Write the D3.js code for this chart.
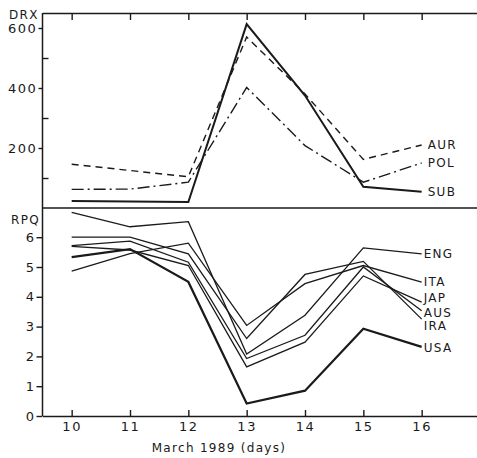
<!DOCTYPE html>
<html><head><meta charset="utf-8">
<script src="https://cdn.jsdelivr.net/npm/d3@7"></script>
<style>
body{margin:0;background:#fff;}
text{font-family:"DejaVu Sans",sans-serif;font-size:12px;fill:#1a1a1a;letter-spacing:1.3px;}
</style></head>
<body><svg id="c" width="477" height="458"></svg>
<script>
// ---- data ----
const days = [10, 11, 12, 13, 14, 15, 16];
const drxNames = ["AUR", "POL", "SUB"];
const AUR = [146, 125, 104, 570, 380, 162, 210];
const POL = [62, 63, 86, 402, 208, 86, 150];
const SUB = [23, 22, 20, 613, 375, 71, 54];
const rpqNames = ["ENG", "ITA", "JAP", "AUS", "IRA", "USA"];
const ENG = [6.83, 6.35, 6.52, 2.08, 3.38, 5.64, 5.44];
const ITA = [4.86, 5.45, 5.8, 3.04, 4.44, 5.05, 4.49];
const JAP = [5.69, 5.57, 5.05, 1.65, 2.48, 4.7, 3.82];
const AUS = [5.72, 5.87, 5.16, 1.93, 2.71, 5.0, 3.53];
const IRA = [6.0, 6.0, 5.44, 2.6, 4.75, 5.19, 3.25];
const USA = [5.33, 5.6, 4.5, 0.42, 0.85, 2.93, 2.32];
const drxMajor = [200, 400, 600];
const drxMinor = [100, 300, 500];
const rpqTicks = [0, 1, 2, 3, 4, 5, 6];
const xLabel = "March 1989 (days)";

// ---- chart ----
const svg = d3.select("#c");
const ink = "#1a1a1a";
const x = d3.scaleLinear().domain([9.5, 17]).range([42.5, 480]);
const yT = d3.scaleLinear().domain([0, 650]).range([208, 13]);
const yB = d3.scaleLinear().domain([0, 7]).range([416, 207.4]);

function style(g){ g.selectAll("path,line").attr("stroke", ink).attr("stroke-width", 1.4); g.selectAll("text").attr("fill", ink); }

// left axes
svg.append("g").attr("transform", "translate(42.5,0)")
  .call(d3.axisLeft(yT).tickValues(drxMajor).tickSize(4).tickPadding(1).tickSizeOuter(0).tickFormat(d3.format("d")))
  .call(style).call(g => g.select(".domain").remove());
svg.append("g").attr("transform", "translate(42.5,0)")
  .call(d3.axisLeft(yT).tickValues(drxMinor).tickSize(-6).tickSizeOuter(0).tickFormat(""))
  .call(style).call(g => g.select(".domain").remove());
svg.append("g").attr("transform", "translate(42.5,0)")
  .call(d3.axisLeft(yB).tickValues(rpqTicks).tickSize(6).tickPadding(1).tickSizeOuter(0).tickFormat(d3.format("d")))
  .call(style).call(g => g.select(".domain").remove());
svg.append("line").attr("x1", 42.5).attr("x2", 42.5).attr("y1", 13).attr("y2", 416)
  .attr("stroke", ink).attr("stroke-width", 1.5);

// top border with inward ticks
svg.append("g").attr("transform", "translate(0,13)")
  .call(d3.axisTop(x).tickValues(days).tickSize(-7).tickSizeOuter(0).tickFormat(""))
  .call(style);
// divider
svg.append("line").attr("x1", 42.5).attr("x2", 477).attr("y1", yT(0)).attr("y2", yT(0))
  .attr("stroke", ink).attr("stroke-width", 1.4);
// bottom axis
svg.append("g").attr("transform", "translate(0,416)")
  .call(d3.axisBottom(x).tickValues(days).tickSize(-6).tickPadding(6).tickSizeOuter(0).tickFormat(d3.format("d")))
  .call(style);

svg.selectAll(".tick text").style("font-size", "13px").style("letter-spacing", "1.6px");

// axis titles
svg.append("text").attr("x", 9).attr("y", 19).text("DRX");
svg.append("text").attr("x", 11).attr("y", 224).text("RPQ");
svg.append("text").attr("x", 219).attr("y", 452).attr("text-anchor", "middle").text(xLabel);

// upper series
const lineT = d3.line().x((d, i) => x(days[i])).y(d => yT(d));
const drx = [
  {name: drxNames[0], v: AUR, dash: "7,5", w: 1.4},
  {name: drxNames[1], v: POL, dash: "12,4,2,4", w: 1.4},
  {name: drxNames[2], v: SUB, dash: null, w: 2}
];
drx.forEach(s => {
  svg.append("path").attr("d", lineT(s.v)).attr("fill", "none").attr("stroke", ink)
    .attr("stroke-width", s.w).attr("stroke-dasharray", s.dash);
  svg.append("text").attr("x", x(16) + 6).attr("y", yT(s.v[6])).attr("dy", "0.36em").text(s.name);
});

// lower series (label nudges in px to avoid overlap, as in the original)
const lineB = d3.line().x((d, i) => x(days[i])).y(d => yB(d));
const rpqVals = [ENG, ITA, JAP, AUS, IRA, USA];
const nudge = [-0.5, -0.5, -4, 2, 7, 1];
rpqVals.forEach((v, k) => {
  const name = rpqNames[k];
  svg.append("path").attr("d", lineB(v)).attr("fill", "none").attr("stroke", ink)
    .attr("stroke-width", name === "USA" ? 2.2 : 1.3);
  svg.append("text").attr("x", x(16) + 2).attr("y", yB(v[6]) + nudge[k]).attr("dy", "0.36em").text(name);
});
</script></body></html>
